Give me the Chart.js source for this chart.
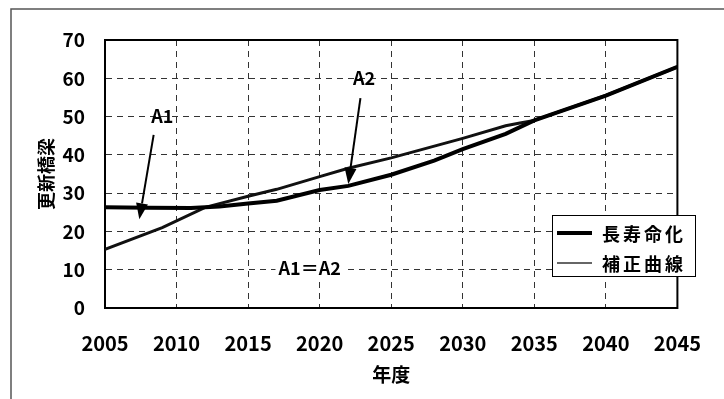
<!DOCTYPE html>
<html><head><meta charset="utf-8">
<script src="https://cdn.jsdelivr.net/npm/chart.js@4/dist/chart.umd.min.js"></script>
<style>html,body{margin:0;padding:0;background:#fff;} canvas{display:block;}</style>
</head><body>
<canvas id="c" width="724" height="399"></canvas>
<script>
// ---- data ----
const yearsLong  = [2005, 2008, 2011, 2013, 2015, 2017, 2020, 2022, 2025, 2028, 2030, 2033, 2035, 2040, 2045];
const valuesLong = [26.3, 26.2, 26.1, 26.5, 27.3, 28.0, 30.8, 31.9, 34.8, 38.5, 41.5, 45.5, 49.0, 55.5, 63.0];
const yearsCorr  = [2005, 2009, 2012, 2015, 2017, 2020, 2022, 2025, 2030, 2033, 2034, 2035, 2040, 2045];
const valuesCorr = [15.3, 21.0, 26.3, 29.2, 31.0, 34.3, 36.5, 39.2, 44.3, 47.6, 48.3, 49.0, 55.5, 63.0];
const seriesLabels = ['長寿命化', '補正曲線'];
const xTickValues = [2005, 2010, 2015, 2020, 2025, 2030, 2035, 2040, 2045];
const yTickValues = [0, 10, 20, 30, 40, 50, 60, 70];
const xTitle = '年度';
const yTitle = '更新橋梁';
const noteTexts = ['A1', 'A2', 'A1＝A2'];
const notePos   = [[2009.0, 50.0], [2023.1, 60.0], [2019.3, 10.5]];
const arrowFrom = [[2008.4, 45.2], [2022.85, 54.8]];
const arrowTo   = [[2007.4, 23.2], [2022.0, 32.4]];

const FONT = '"Noto Sans CJK JP", "Liberation Sans", sans-serif';

const pts = (xs, ys) => xs.map((x, i) => ({x: x, y: ys[i]}));

const framePlugin = {
  id: 'frame',
  beforeDraw(chart) {
    const ctx = chart.ctx;
    ctx.save();
    ctx.fillStyle = '#fff';
    ctx.fillRect(0, 0, chart.width, chart.height);
    ctx.strokeStyle = '#555';
    ctx.lineWidth = 1.5;
    ctx.beginPath();
    ctx.moveTo(11, chart.height + 5);
    ctx.lineTo(11, 9);
    ctx.lineTo(chart.width + 5, 9);
    ctx.stroke();
    ctx.restore();
  },
  beforeDatasetsDraw(chart) {
    const ctx = chart.ctx, a = chart.chartArea;
    ctx.save();
    ctx.strokeStyle = '#000';
    ctx.lineWidth = 2;
    ctx.setLineDash([]);
    ctx.strokeRect(a.left, a.top, a.right - a.left, a.bottom - a.top);
    ctx.restore();
  }
};

const notesPlugin = {
  id: 'notes',
  afterDatasetsDraw(chart) {
    const ctx = chart.ctx, xs = chart.scales.x, ys = chart.scales.y;
    ctx.save();
    ctx.font = 'bold 18px ' + FONT;
    ctx.textAlign = 'center';
    ctx.textBaseline = 'middle';
    noteTexts.forEach((t, i) => {
      const px = xs.getPixelForValue(notePos[i][0]);
      const py = ys.getPixelForValue(notePos[i][1]);
      if (i === 2) {
        const w = ctx.measureText(t).width;
        ctx.fillStyle = '#fff';
        ctx.fillRect(px - w / 2 - 3, py - 11, w + 6, 22);
      }
      ctx.fillStyle = '#000';
      ctx.fillText(t, px, py);
    });
    arrowFrom.forEach((f, i) => {
      const x1 = xs.getPixelForValue(f[0]), y1 = ys.getPixelForValue(f[1]);
      const x2 = xs.getPixelForValue(arrowTo[i][0]), y2 = ys.getPixelForValue(arrowTo[i][1]);
      const ang = Math.atan2(y2 - y1, x2 - x1);
      const hl = 16, hw = 6;
      const bx = x2 - hl * Math.cos(ang), by = y2 - hl * Math.sin(ang);
      ctx.strokeStyle = '#000';
      ctx.lineWidth = 2;
      ctx.beginPath();
      ctx.moveTo(x1, y1);
      ctx.lineTo(bx, by);
      ctx.stroke();
      ctx.fillStyle = '#000';
      ctx.beginPath();
      ctx.moveTo(x2, y2);
      ctx.lineTo(bx + hw * Math.sin(ang), by - hw * Math.cos(ang));
      ctx.lineTo(bx - hw * Math.sin(ang), by + hw * Math.cos(ang));
      ctx.closePath();
      ctx.fill();
    });
    // legend box
    const lx = 552, ly = 215, lw = 143, lh = 61;
    ctx.fillStyle = '#fff';
    ctx.fillRect(lx, ly, lw, lh);
    ctx.strokeStyle = '#000';
    ctx.lineWidth = 1;
    ctx.strokeRect(lx + 0.5, ly + 0.5, lw, lh);
    const ds = chart.data.datasets;
    const rows = [ly + 18, ly + 48];
    ds.forEach((d, i) => {
      ctx.strokeStyle = i === 0 ? '#000' : '#666';
      ctx.lineWidth = i === 0 ? 4 : 2;
      ctx.beginPath();
      ctx.moveTo(lx + 5, rows[i]);
      ctx.lineTo(lx + 40, rows[i]);
      ctx.stroke();
      ctx.fillStyle = '#000';
      ctx.font = 'bold 18px ' + FONT;
      ctx.textAlign = 'left';
      ctx.textBaseline = 'middle';
      try { ctx.letterSpacing = '3px'; } catch (e) {}
      ctx.fillText(d.label, lx + 50, rows[i] + 1);
      try { ctx.letterSpacing = '0px'; } catch (e) {}
    });
    ctx.restore();
  }
};

new Chart(document.getElementById('c'), {
  type: 'line',
  data: {
    datasets: [
      { label: seriesLabels[0], data: pts(yearsLong, valuesLong), borderColor: '#000', borderWidth: 4, pointRadius: 0, tension: 0, fill: false },
      { label: seriesLabels[1], data: pts(yearsCorr, valuesCorr), borderColor: '#111', borderWidth: 3, pointRadius: 0, tension: 0, fill: false }
    ]
  },
  options: {
    responsive: false,
    animation: false,
    devicePixelRatio: 1,
    layout: { padding: { top: 40, right: 25, left: 0, bottom: 0 } },
    plugins: { legend: { display: false }, tooltip: { enabled: false } },
    scales: {
      x: {
        type: 'linear', min: 2005, max: 2045,
        afterFit(s) { s.height = 91; },
        afterBuildTicks(s) { s.ticks = xTickValues.map(v => ({value: v})); },
        ticks: { padding: 23, color: '#000', font: { family: FONT, size: 20, weight: 'bold' }, callback: v => String(v), maxRotation: 0, autoSkip: false },
        grid: { color: '#333', lineWidth: 1, drawTicks: false, tickLength: 0 },
        border: { display: true, color: '#000', width: 2, dash: [6, 5] },
        title: { display: true, text: xTitle, color: '#000', font: { family: FONT, size: 19, weight: 'bold' }, padding: { top: 0, bottom: 13 } }
      },
      y: {
        type: 'linear', min: 0, max: 70,
        afterFit(s) { s.width = 105; },
        afterBuildTicks(s) { s.ticks = yTickValues.map(v => ({value: v})); },
        ticks: { padding: 20, color: '#000', font: { family: FONT, size: 19, weight: 'bold' }, callback: v => String(v) },
        grid: { color: '#333', lineWidth: 1, drawTicks: false, tickLength: 0 },
        border: { display: true, color: '#000', width: 2, dash: [6, 5] },
        title: { display: true, text: yTitle, color: '#000', font: { family: FONT, size: 18, weight: 'bold' }, padding: { top: 35, bottom: 0 } }
      }
    }
  },
  plugins: [framePlugin, notesPlugin]
});
</script>
</body></html>
